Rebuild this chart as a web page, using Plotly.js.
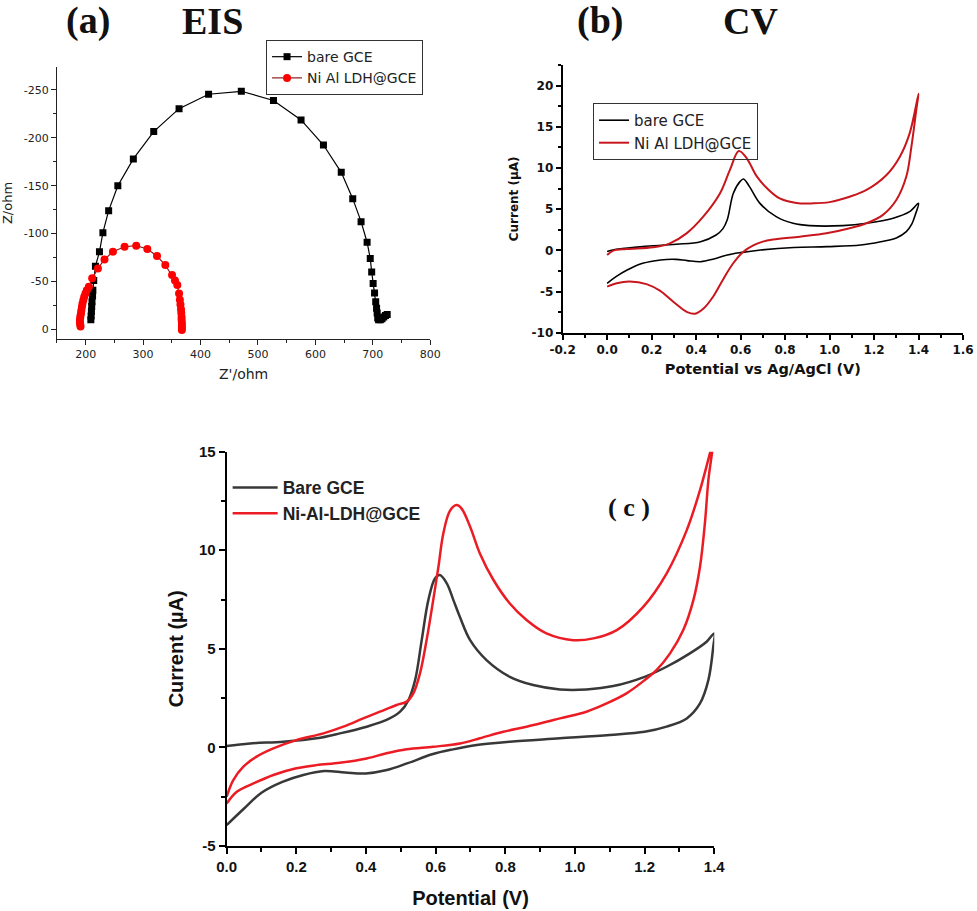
<!DOCTYPE html>
<html><head><meta charset="utf-8">
<script src="https://cdn.plot.ly/plotly-3.0.1.min.js"></script>
<style>html,body{margin:0;padding:0;background:#fff}#chart{width:977px;height:911px}</style>
</head><body><div id="chart"></div>
<script>
// ---------- (a) EIS (Nyquist) ----------
const eisBareRe = [209, 209.5, 210, 210.5, 211, 212, 212.5, 214, 217, 224, 230, 240, 256, 283, 318.5, 362.6, 414, 471, 527, 575, 614, 645, 665, 679.5, 690, 695.5, 698, 700.5, 703, 705, 706.5, 707.5, 708.5, 710, 713, 716, 719, 722, 725];
const eisBareIm = [-10, -14, -19, -24, -29, -35, -41, -51, -66, -81, -101, -124, -150, -178, -206.5, -230.5, -245.5, -248.6, -239, -218.7, -192.5, -164, -136.5, -112.5, -91, -74, -60, -48, -38, -29, -22, -17, -12, -10, -10, -11, -13, -14.5, -15.5];
const eisLdhRe = [191, 190.5, 190, 190, 190.5, 191, 192, 192.5, 193.5, 194.5, 196, 197.5, 199.7, 202, 205.6, 211.3, 221.3, 232.8, 247.4, 267.7, 288, 307.3, 324.2, 338.7, 350.4, 355.5, 359.6, 362.6, 364, 365, 366, 366.5, 367, 367, 367.5, 367.5, 367.5, 367.5];
const eisLdhIm = [-3, -5, -7, -9.7, -12, -14.5, -17, -20, -23.6, -27, -30.6, -34, -37.6, -41, -44.5, -53.3, -63.7, -73.1, -81, -86.3, -87.4, -83.9, -76.6, -67.2, -56.7, -51, -46.3, -37.6, -31, -26, -21, -17, -13, -10, -7, -4, -1.5, 0.5];
const eisYTickVals = [0, -50, -100, -150, -200, -250];
const eisYTickText = ['0', '-50', '-100', '-150', '-200', '-250'];
const eisXTickVals = [200, 300, 400, 500, 600, 700, 800];

// ---------- (b) CV ----------
const cvbBareFwdV = [0.0, 0.02, 0.05, 0.16, 0.31, 0.42, 0.49, 0.52, 0.54, 0.567, 0.597, 0.613, 0.64, 0.687, 0.76, 0.836, 0.91, 1.06, 1.166, 1.286, 1.36, 1.4];
const cvbBareFwdI = [-0.15, 0.0, 0.15, 0.45, 0.73, 1.05, 1.86, 2.6, 3.7, 6.9, 8.34, 8.66, 7.73, 5.7, 4.09, 3.28, 3.0, 3.0, 3.28, 3.9, 4.7, 5.7];
const cvbBareRevV = [1.385, 1.37, 1.345, 1.3, 1.23, 1.14, 0.99, 0.84, 0.69, 0.6, 0.54, 0.48, 0.42, 0.36, 0.31, 0.24, 0.16, 0.09, 0.04, 0.0];
const cvbBareRevI = [4.3, 3.2, 2.27, 1.5, 1.05, 0.65, 0.45, 0.35, 0.04, -0.28, -0.57, -1.05, -1.38, -1.25, -1.1, -1.17, -1.58, -2.4, -3.2, -4.0];
const cvbLdhFwdV = [0.0, 0.028, 0.087, 0.207, 0.282, 0.357, 0.432, 0.507, 0.552, 0.592, 0.627, 0.672, 0.72, 0.776, 0.851, 0.926, 1.0, 1.09, 1.166, 1.256, 1.316, 1.36, 1.4];
const cvbLdhFwdI = [-0.57, -0.04, 0.16, 0.36, 0.85, 2.06, 4.09, 6.9, 9.76, 12.05, 11.2, 9.0, 7.5, 6.3, 5.75, 5.7, 5.85, 6.5, 7.33, 9.15, 11.37, 14.2, 19.0];
const cvbLdhRevV = [1.39, 1.368, 1.345, 1.3, 1.24, 1.166, 1.09, 0.986, 0.866, 0.746, 0.7, 0.657, 0.611, 0.566, 0.522, 0.477, 0.432, 0.395, 0.36, 0.3, 0.237, 0.177, 0.1, 0.043, 0.0];
const cvbLdhRevI = [17.05, 12.6, 8.95, 6.1, 4.3, 3.28, 2.67, 2.06, 1.66, 1.3, 1.05, 0.6, -0.2, -1.6, -3.5, -5.6, -7.1, -7.7, -7.5, -6.3, -4.9, -4.1, -3.8, -4.0, -4.4];
const cvbXTickVals = [-0.2, 0, 0.2, 0.4, 0.6, 0.8, 1.0, 1.2, 1.4, 1.6];
const cvbXTickText = ['-0.2', '0.0', '0.2', '0.4', '0.6', '0.8', '1.0', '1.2', '1.4', '1.6'];
const cvbYTickVals = [-10, -5, 0, 5, 10, 15, 20];
const cvbYTickText = ['-10', '-5', '0', '5', '10', '15', '20'];

// ---------- (c) CV ----------
const cvcBareFwdV = [0.0, 0.067, 0.163, 0.258, 0.325, 0.402, 0.459, 0.498, 0.522, 0.541, 0.56, 0.579, 0.598, 0.612, 0.632, 0.651, 0.67, 0.699, 0.746, 0.813, 0.88, 0.957, 1.033, 1.11, 1.2, 1.263, 1.33, 1.378, 1.4];
const cvcBareFwdI = [0.07, 0.2, 0.29, 0.46, 0.71, 1.05, 1.39, 1.81, 2.4, 3.41, 5.44, 7.47, 8.57, 8.74, 8.32, 7.47, 6.6, 5.44, 4.43, 3.58, 3.16, 2.94, 2.94, 3.11, 3.58, 4.09, 4.77, 5.36, 5.78];
const cvcBareRevV = [1.397, 1.383, 1.359, 1.321, 1.263, 1.2, 1.1, 0.957, 0.813, 0.718, 0.65, 0.59, 0.52, 0.46, 0.4, 0.34, 0.28, 0.22, 0.16, 0.1, 0.05, 0.0];
const cvcBareRevI = [5.1, 3.41, 2.23, 1.47, 1.05, 0.79, 0.63, 0.46, 0.29, 0.12, -0.1, -0.35, -0.8, -1.15, -1.32, -1.27, -1.2, -1.4, -1.75, -2.3, -3.1, -3.94];
const cvcLdhFwdV = [0.0, 0.019, 0.048, 0.086, 0.134, 0.2, 0.278, 0.335, 0.392, 0.44, 0.488, 0.517, 0.536, 0.555, 0.574, 0.593, 0.608, 0.622, 0.641, 0.66, 0.675, 0.699, 0.727, 0.766, 0.813, 0.861, 0.918, 0.995, 1.053, 1.12, 1.196, 1.263, 1.321, 1.359, 1.395];
const cvcLdhFwdI = [-2.5, -1.66, -0.98, -0.47, -0.05, 0.37, 0.71, 1.05, 1.47, 1.81, 2.15, 2.32, 2.74, 3.75, 5.44, 7.47, 9.16, 10.85, 12.0, 12.29, 12.1, 11.19, 9.84, 8.49, 7.3, 6.46, 5.78, 5.44, 5.53, 5.95, 7.13, 8.82, 11.02, 13.05, 15.3];
const cvcLdhRevV = [1.383, 1.373, 1.359, 1.34, 1.311, 1.273, 1.234, 1.2, 1.148, 1.091, 1.033, 0.957, 0.861, 0.794, 0.727, 0.67, 0.593, 0.517, 0.459, 0.402, 0.325, 0.258, 0.2, 0.134, 0.077, 0.029, 0.0];
const cvcLdhRevI = [13.56, 11.36, 9.16, 7.47, 5.95, 4.77, 3.92, 3.41, 2.74, 2.23, 1.81, 1.47, 1.05, 0.79, 0.46, 0.2, 0.03, -0.1, -0.3, -0.56, -0.78, -0.9, -1.06, -1.4, -1.83, -2.25, -2.85];
const cvcXTickVals = [0, 0.2, 0.4, 0.6, 0.8, 1.0, 1.2, 1.4];
const cvcXTickText = ['0.0', '0.2', '0.4', '0.6', '0.8', '1.0', '1.2', '1.4'];
const cvcYTickVals = [-5, 0, 5, 10, 15];
const cvcYTickText = ['-5', '0', '5', '10', '15'];

// ---------- styling ----------
const serif = '"Liberation Serif", "Times New Roman", serif';
const sans = '"Liberation Sans", Arial, sans-serif';
const dejavu = '"DejaVu Sans", sans-serif';

const traces = [
  { x: eisBareRe, y: eisBareIm, xaxis: 'x', yaxis: 'y', legend: 'legend', name: 'bare GCE',
    mode: 'lines+markers', line: { color: '#000', width: 1.2 },
    marker: { symbol: 'square', size: 7, color: '#000' } },
  { x: eisLdhRe, y: eisLdhIm, xaxis: 'x', yaxis: 'y', legend: 'legend', name: 'Ni Al LDH@GCE',
    mode: 'lines+markers', line: { color: '#8b1c1c', width: 1.2 },
    marker: { symbol: 'circle', size: 8, color: '#ff0000' } },
  { x: cvbBareFwdV.concat(cvbBareRevV), y: cvbBareFwdI.concat(cvbBareRevI), xaxis: 'x2', yaxis: 'y2', legend: 'legend2',
    name: 'bare GCE', mode: 'lines', line: { color: '#000', width: 1.6, shape: 'spline', smoothing: 1 } },
  { x: cvbLdhFwdV.concat(cvbLdhRevV), y: cvbLdhFwdI.concat(cvbLdhRevI), xaxis: 'x2', yaxis: 'y2', legend: 'legend2',
    name: 'Ni Al LDH@GCE', mode: 'lines', line: { color: '#c8161d', width: 2, shape: 'spline', smoothing: 1 } },
  { x: cvcBareFwdV.concat(cvcBareRevV), y: cvcBareFwdI.concat(cvcBareRevI), xaxis: 'x3', yaxis: 'y3', legend: 'legend3',
    name: 'Bare GCE', mode: 'lines', line: { color: '#383838', width: 2.5, shape: 'spline', smoothing: 1 } },
  { x: cvcLdhFwdV.concat(cvcLdhRevV), y: cvcLdhFwdI.concat(cvcLdhRevI), xaxis: 'x3', yaxis: 'y3', legend: 'legend3',
    name: 'Ni-Al-LDH@GCE', mode: 'lines', line: { color: '#ec1c24', width: 2.5, shape: 'spline', smoothing: 1 } }
];

function axisBase(o) {
  return Object.assign({ showline: true, showgrid: false, zeroline: false, ticks: 'outside', mirror: false, automargin: false }, o);
}

const layout = {
  width: 977, height: 911,
  margin: { l: 0, r: 0, t: 0, b: 0 },
  paper_bgcolor: '#fff', plot_bgcolor: 'rgba(0,0,0,0)',
  showlegend: true,
  xaxis: axisBase({ domain: [0.0583, 0.4404], anchor: 'y', range: [150, 800],
    linecolor: '#222', linewidth: 1, ticklen: 5, tickwidth: 1, tickcolor: '#222',
    tickmode: 'array', tickvals: eisXTickVals,
    minor: { tickmode: 'linear', tick0: 0, dtick: 50, ticks: 'outside', ticklen: 3, tickcolor: '#222', tickwidth: 1 },
    tickfont: { family: dejavu, size: 11, color: '#222' },
    title: { text: "Z'/ohm", font: { family: dejavu, size: 14, color: '#222' }, standoff: 9 } }),
  yaxis: axisBase({ domain: [0.6279, 0.9265], anchor: 'x', range: [10, -274],
    linecolor: '#222', linewidth: 1, ticklen: 5, tickwidth: 1, tickcolor: '#222',
    tickmode: 'array', tickvals: eisYTickVals, ticktext: eisYTickText,
    minor: { tickmode: 'linear', tick0: 0, dtick: 25, ticks: 'outside', ticklen: 3, tickcolor: '#222', tickwidth: 1 },
    tickfont: { family: dejavu, size: 11, color: '#222' },
    title: { text: 'Z/ohm', font: { family: dejavu, size: 13, color: '#222' }, standoff: 8 } }),
  xaxis2: axisBase({ domain: [0.5759, 0.9857], anchor: 'y2', range: [-0.2, 1.6],
    linecolor: '#000', linewidth: 2, ticklen: 5, tickwidth: 2, tickcolor: '#000',
    tickmode: 'array', tickvals: cvbXTickVals, ticktext: cvbXTickText,
    minor: { tickmode: 'linear', tick0: 0, dtick: 0.1, ticks: 'outside', ticklen: 3, tickcolor: '#000', tickwidth: 2 },
    tickfont: { family: dejavu, size: 12, color: '#111', weight: 'bold' },
    title: { text: 'Potential vs Ag/AgCl (V)', font: { family: dejavu, size: 14.5, color: '#111', weight: 'bold' }, standoff: 8 } }),
  yaxis2: axisBase({ domain: [0.6348, 0.9287], anchor: 'x2', range: [-10, 22.5],
    linecolor: '#000', linewidth: 2, ticklen: 5, tickwidth: 2, tickcolor: '#000',
    tickmode: 'array', tickvals: cvbYTickVals, ticktext: cvbYTickText,
    minor: { tickmode: 'linear', tick0: 0, dtick: 2.5, ticks: 'outside', ticklen: 3, tickcolor: '#000', tickwidth: 2 },
    tickfont: { family: dejavu, size: 12, color: '#111', weight: 'bold' },
    title: { text: 'Current (µA)', font: { family: dejavu, size: 12, color: '#111', weight: 'bold' }, standoff: 10 } }),
  xaxis3: axisBase({ domain: [0.2320, 0.7311], anchor: 'y3', range: [0, 1.4],
    linecolor: '#000', linewidth: 2, ticklen: 6, tickwidth: 2, tickcolor: '#000',
    tickmode: 'array', tickvals: cvcXTickVals, ticktext: cvcXTickText,
    minor: { tickmode: 'linear', tick0: 0, dtick: 0.1, ticks: 'outside', ticklen: 4, tickcolor: '#000', tickwidth: 2 },
    tickfont: { family: sans, size: 15, color: '#111', weight: 'bold' },
    title: { text: 'Potential (V)', font: { family: sans, size: 20, color: '#111', weight: 'bold' }, standoff: 17 } }),
  yaxis3: axisBase({ domain: [0.0714, 0.5042], anchor: 'x3', range: [-5, 15],
    linecolor: '#000', linewidth: 2, ticklen: 6, tickwidth: 2, tickcolor: '#000',
    tickmode: 'array', tickvals: cvcYTickVals, ticktext: cvcYTickText,
    minor: { tickmode: 'linear', tick0: 0, dtick: 2.5, ticks: 'outside', ticklen: 4, tickcolor: '#000', tickwidth: 2 },
    tickfont: { family: sans, size: 15, color: '#111', weight: 'bold' },
    title: { text: 'Current (µA)', font: { family: sans, size: 20, color: '#111', weight: 'bold' }, standoff: 10 } }),
  legend: { x: 0.2723, y: 0.956, xanchor: 'left', yanchor: 'top', bgcolor: 'rgba(255,255,255,0)',
    bordercolor: '#333', borderwidth: 1, font: { family: dejavu, size: 14, color: '#222' }, tracegroupgap: 0 },
  legend2: { x: 0.607, y: 0.887, xanchor: 'left', yanchor: 'top', bgcolor: 'rgba(255,255,255,0)',
    bordercolor: '#333', borderwidth: 1, font: { family: dejavu, size: 15, color: '#222' }, tracegroupgap: 0 },
  legend3: { x: 0.233, y: 0.4845, xanchor: 'left', yanchor: 'top', bgcolor: 'rgba(255,255,255,0)',
    borderwidth: 0, font: { family: sans, size: 17.5, color: '#222', weight: 'bold' }, tracegroupgap: 0, itemwidth: 45 },
  annotations: [
    { text: '(a)', x: 0.0896, y: 0.977, xref: 'paper', yref: 'paper', xanchor: 'center', yanchor: 'middle', showarrow: false,
      font: { family: serif, size: 38, color: '#111', weight: 'bold' } },
    { text: 'EIS', x: 0.217, y: 0.977, xref: 'paper', yref: 'paper', xanchor: 'center', yanchor: 'middle', showarrow: false,
      font: { family: serif, size: 38, color: '#111', weight: 'bold' } },
    { text: '(b)', x: 0.614, y: 0.977, xref: 'paper', yref: 'paper', xanchor: 'center', yanchor: 'middle', showarrow: false,
      font: { family: serif, size: 38, color: '#111', weight: 'bold' } },
    { text: 'CV', x: 0.7677, y: 0.977, xref: 'paper', yref: 'paper', xanchor: 'center', yanchor: 'middle', showarrow: false,
      font: { family: serif, size: 38, color: '#111', weight: 'bold' } },
    { text: '( c )', x: 0.6438, y: 0.4424, xref: 'paper', yref: 'paper', xanchor: 'center', yanchor: 'middle', showarrow: false,
      font: { family: serif, size: 26, color: '#111', weight: 'bold' } }
  ]
};

Plotly.newPlot('chart', traces, layout, { staticPlot: true, displayModeBar: false });
</script></body></html>
